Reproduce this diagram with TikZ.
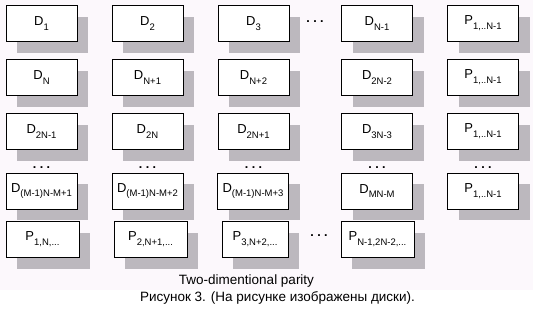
\documentclass[tikz,border=0pt]{standalone}
\usepackage{fontspec}
\setmainfont{Liberation Sans}
\usetikzlibrary{shadows}
\definecolor{paper}{RGB}{252,248,252}
\definecolor{shade}{RGB}{188,184,190}
\newcommand{\lowidx}[1]{\raisebox{-0.7ex}{\fontsize{9.5}{9.5}\selectfont #1}}
\tikzset{
  disk/.style={draw, fill=white, line width=0.8pt, minimum width=71pt, minimum height=36pt,
    inner sep=0pt, font=\fontsize{13}{13}\selectfont,
    drop shadow={shadow xshift=11pt, shadow yshift=-11pt, fill=shade, opacity=1}},
  skip/.style={font=\bfseries\fontsize{12.5}{12.5}\selectfont, inner sep=0pt}
}
\begin{document}
\begin{tikzpicture}[x=1pt, y=-1pt]
    \useasboundingbox (0,0) rectangle (533,316);
    % Background
    \fill[white] (0,0) rectangle (533,316);
    \fill[paper] (0,0) rectangle (533,290);

    % First row
    \node[disk] (d1) at (41.5,23.5) {D\lowidx{1}};
    \node[disk] (d2) at (147.5,23.5) {D\lowidx{2}};
    \node[disk] (d3) at (253.5,23.5) {D\lowidx{3}};
    \node[disk] (dn1) at (377,23.5) {D\lowidx{N-1}};
    \node[disk] (pa) at (483,23.5) {P\lowidx{1,..N-1}};
    \node[skip] (gap1) at (315,22) {.\ .\ .};

    % Second row
    \node[disk] (dn) at (41.5,77.5) {D\lowidx{N}};
    \node[disk] (dnp1) at (147.5,77.5) {D\lowidx{N+1}};
    \node[disk] (dnp2) at (253.5,77.5) {D\lowidx{N+2}};
    \node[disk] (d2n2) at (377,77.5) {D\lowidx{2N-2}};
    \node[disk] (pb) at (483,77.5) {P\lowidx{1,..N-1}};

    % Third row
    \node[disk] (d2n1) at (41.5,131.5) {D\lowidx{2N-1}};
    \node[disk] (d2n) at (147.5,131.5) {D\lowidx{2N}};
    \node[disk] (d2np1) at (253.5,131.5) {D\lowidx{2N+1}};
    \node[disk] (d3n3) at (377,131.5) {D\lowidx{3N-3}};
    \node[disk] (pc) at (483,131.5) {P\lowidx{1,..N-1}};

    % Gap before last row
    \node[skip] (gap2) at (41.5,168) {.\ .\ .};
    \node[skip] (gap3) at (147.5,168) {.\ .\ .};
    \node[skip] (gap4) at (253.5,168) {.\ .\ .};
    \node[skip] (gap5) at (377,168) {.\ .\ .};
    \node[skip] (gap6) at (483,168) {.\ .\ .};

    % Last row of disks
    \node[disk] (dm1) at (41.5,191) {D\lowidx{(M-1)N-M+1}};
    \node[disk] (dm2) at (147.5,191) {D\lowidx{(M-1)N-M+2}};
    \node[disk] (dm3) at (253,191) {D\lowidx{(M-1)N-M+3}};
    \node[disk] (dmn) at (377,191) {D\lowidx{MN-M}};
    \node[disk] (pd) at (483,191) {P\lowidx{1,..N-1}};

    % Column parity
    \node[disk, minimum width=73pt] (q1) at (42.5,239.5) {P\lowidx{1,N,...}};
    \node[disk, minimum width=73pt] (q2) at (150.5,239.5) {P\lowidx{2,N+1,...}};
    \node[disk, minimum width=66pt] (q3) at (255,239.5) {P\lowidx{3,N+2,...}};
    \node[disk, minimum width=73pt] (qn) at (377.5,239.5) {P\lowidx{N-1,2N-2,...}};
    \node[skip] (gap7) at (319,236) {.\ .\ .};

    % Captions
    \node[font=\fontsize{13.5}{13.5}\selectfont] (title) at (246.5,281) {Two-dimentional parity};
    \node[font=\fontsize{13.5}{13.5}\selectfont] (caption) at (277.5,298) {Рисунок 3. (На рисунке изображены диски).};
\end{tikzpicture}
\end{document}
